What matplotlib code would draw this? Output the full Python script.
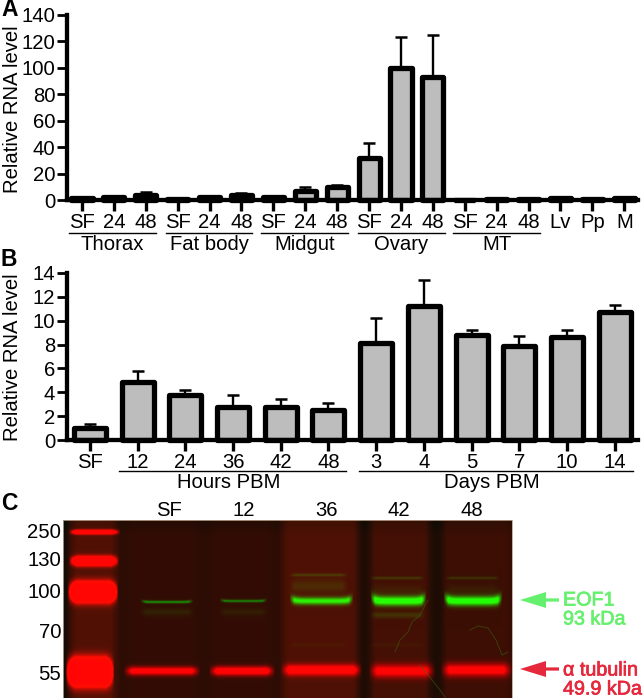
import numpy as np
import matplotlib
matplotlib.use('Agg')
import matplotlib.pyplot as plt
import matplotlib.patheffects as pe

plt.rcParams['font.family'] = ['Liberation Sans', 'DejaVu Sans']

W, H = 643, 698

# panel A
a_labels = ['SF', '24', '48', 'SF', '24', '48', 'SF', '24', '48', 'SF', '24', '48',
            'SF', '24', '48', 'Lv', 'Pp', 'M']
a_values = [1.5, 2, 3.5, 1, 2, 3.5, 2, 6.5, 10, 32, 100, 93, 0.2, 0.5, 1, 1.5, 0.7, 1.7]
a_upper = [1.7, 2.2, 6, 1.2, 2.3, 5, 2.3, 9.5, 11.5, 43, 123, 125, 0.2, 0.6, 1.1, 1.7, 0.8, 1.9]
a_yticks = [0, 20, 40, 60, 80, 100, 120, 140]

# panel B
b_labels = ['SF', '12', '24', '36', '42', '48', '3', '4', '5', '7', '10', '14']
b_values = [1.0, 4.9, 3.8, 2.8, 2.8, 2.5, 8.1, 11.2, 8.8, 7.9, 8.6, 10.7]
b_upper = [1.3, 5.8, 4.2, 3.8, 3.4, 3.1, 10.2, 13.4, 9.2, 8.7, 9.2, 11.3]
b_yticks = [0, 2, 4, 6, 8, 10, 12, 14]

# panel C labels
marker_sizes = ['250', '130', '100', '70', '55']
lane_names = ['SF', '12', '36', '42', '48']

# gel bands: x0, x1, y, half height, strength
ladder_bands = [(73, 116, 532, 2.2, 420), (73, 115, 561, 4.5, 520),
                (72, 114, 592, 8.5, 900), (70, 110, 672, 11.5, 1000)]
tubulin_bands = [(128, 196, 671, 4.2, 250), (213, 271, 671, 4.5, 270), (285, 358, 670, 5.5, 250),
                 (373, 431, 671, 6.5, 215), (445, 508, 670, 6.5, 225)]
green_bands = [(143, 191, 602, 1.4, 120), (222, 265, 601, 1.4, 110), (292, 351, 601, 3.6, 230),
               (373, 424, 601, 4.6, 280), (446, 500, 601, 4.6, 280)]
faint_green = [(143, 191, 612, 3.5, 20), (222, 265, 612, 3.5, 16), (292, 345, 575, 1.5, 40),
               (292, 345, 586, 6.0, 26), (373, 422, 578, 1.5, 38), (373, 422, 590, 5.0, 14),
               (373, 422, 615, 3.0, 34), (448, 497, 578, 1.5, 34), (448, 497, 590, 5.0, 14),
               (292, 345, 645, 2.0, 8), (373, 422, 645, 2.0, 8)]
lane_glow = [(283, 358, 34), (370, 430, 24), (442, 512, 16), (128, 196, 6), (213, 271, 6),
             (72, 116, 36)]


def box(xx, x0, x1, soft=4.0):
    return np.clip((xx - x0) / soft + 0.5, 0, 1) * np.clip((x1 - xx) / soft + 0.5, 0, 1)


def make_gel():
    xx, yy = np.meshgrid(np.arange(63, 512) + 0.5, np.arange(520, 698) + 0.5)
    red = np.full(xx.shape, 44.0)
    green = np.full(xx.shape, 12.0)
    for x0, x1, amp in lane_glow:
        red += amp * box(xx, x0, x1, 10)
        green += amp * 0.14 * box(xx, x0, x1, 10)
    red -= 14 * np.clip((535 - yy) / 15, 0, 1)
    red -= 14 * box(xx, 358, 372, 6) + 16 * box(xx, 428, 444, 6)
    red -= 28 * np.clip((70 - xx) / 6, 0, 1)
    for x0, x1, y, h, amp in ladder_bands + tubulin_bands:
        shape = box(xx, x0, x1, 9) * np.exp(-((yy - y) / h) ** 2)
        red += amp * shape
        green *= 1 - 0.7 * np.clip(shape * 2, 0, 1)
    for x0, x1, y, h, amp in green_bands:
        # the strong bands curl upward a little at both ends
        mid = (x0 + x1) / 2
        half = (x1 - x0) / 2
        curl = np.clip(np.abs(xx - mid) / half, 0, 1.2) ** 8 * h * 0.5
        shape = box(xx, x0, x1, 5) * np.exp(-((yy - y + curl) / (h + curl * 0.2)) ** 2)
        green += amp * shape
        red *= 1 - 0.45 * np.clip(shape, 0, 1)
    for x0, x1, y, h, amp in faint_green:
        shape = box(xx, x0, x1, 6) * np.exp(-((yy - y) / h) ** 2)
        green += amp * shape
    blue = np.full(xx.shape, 4.0)
    return np.clip(np.dstack([red, green, blue]), 0, 255).astype(np.uint8)


def draw_bars(ax, values, upper, width, yticks, labels):
    x = np.arange(len(values))
    err = [np.zeros(len(values)), np.array(upper) - np.array(values)]
    ax.errorbar(x, values, yerr=err, fmt='none', ecolor='k', elinewidth=1.7, capsize=4.6,
                capthick=1.8, zorder=2)
    ax.bar(x, values, width=width, color='#bdbdbd', edgecolor='k', linewidth=3.8, zorder=3,
           joinstyle='round', clip_on=False)
    for s in ['top', 'right']:
        ax.spines[s].set_visible(False)
    for s in ['left', 'bottom']:
        ax.spines[s].set_linewidth(3.1)
        ax.spines[s].set_zorder(4)
    ax.set_yticks(yticks)
    ax.set_xticks(x)
    ax.set_xticklabels(labels)
    ax.tick_params(axis='y', length=7.5, width=2.0, pad=1.0, labelsize=14.6)
    ax.tick_params(axis='x', length=8, width=2.4, pad=1.0, labelsize=14.6)
    ax.patch.set_alpha(0)


fig = plt.figure(figsize=(W / 100, H / 100), dpi=100)

# overlay in pixel coordinates for the gel and all the loose labels
over = fig.add_axes([0, 0, 1, 1])
over.imshow(make_gel(), extent=(63, 512, 698, 520), aspect='auto', interpolation='bilinear')
over.plot([63, 512, 512], [520, 520, 698], color='#b9a08c', lw=0.6)
over.plot([63, 63], [520, 698], color='#b9a08c', lw=0.6)
over.set_xlim(0, W)
over.set_ylim(H, 0)
over.axis('off')

ax_a = fig.add_axes([67 / W, 1 - 200 / H, (638 - 67) / W, 185 / H])
ax_a.set_xlim(-0.47, 17.43)
ax_a.set_ylim(0, 140)
draw_bars(ax_a, a_values, a_upper, 0.66, a_yticks, a_labels)

ax_b = fig.add_axes([67 / W, 1 - 440 / H, (638 - 67) / W, 167 / H])
ax_b.set_xlim(-0.482, 11.49)
ax_b.set_ylim(0, 14)
draw_bars(ax_b, b_values, b_upper, 0.67, b_yticks, b_labels)

fs = 14.6
over.text(12.5, 109, 'Relative RNA level', rotation=90, ha='center', va='center', fontsize=fs)
over.text(12.5, 357, 'Relative RNA level', rotation=90, ha='center', va='center', fontsize=fs)

# group lines and names
for x0, x1, name in [(69, 156, 'Thorax'), (166, 252, 'Fat body'), (261, 348, 'Midgut'),
                     (358, 445, 'Ovary'), (453, 540, 'MT')]:
    over.plot([x0, x1], [233, 233], color='k', lw=1.0)
    over.text((x0 + x1) / 2, 245, name, ha='center', va='center', fontsize=fs)
for x0, x1, name in [(119, 346, 'Hours PBM'), (359, 633, 'Days PBM')]:
    over.plot([x0, x1], [471, 471], color='k', lw=1.0)
    over.text((x0 + x1) / 2 - 4, 482, name, ha='center', va='center', fontsize=fs)

for letter, y in zip('ABC', [10, 259, 504]):
    over.text(1, y, letter, ha='left', va='center', fontsize=16.5, fontweight='bold')

for label, y in zip(marker_sizes, [533, 561, 592, 632, 674]):
    over.text(61, y, label, ha='right', va='center', fontsize=fs)
for label, x in zip(lane_names, [169, 244, 327, 399, 472]):
    over.text(x, 511, label, ha='center', va='center', fontsize=fs)

# faint squiggles on the membrane
over.plot([395, 400, 408, 412, 420, 428], [652, 640, 632, 622, 615, 600], color='#3c6a14', lw=0.7, alpha=0.5)
over.plot([470, 478, 488, 496, 502, 508], [630, 626, 628, 640, 655, 652], color='#3c6a14', lw=0.7, alpha=0.5)
over.plot([420, 432, 440, 445], [665, 680, 690, 697], color='#3c6a14', lw=0.7, alpha=0.5)

# arrows and protein labels
green_c = '#66f06e'
red_c = '#e6283c'
over.arrow(559, 600, -39, 0, width=3.2, head_width=16, head_length=26,
           length_includes_head=True, color=green_c, lw=0)
over.arrow(559, 669, -39, 0, width=3.2, head_width=16, head_length=26,
           length_includes_head=True, color=red_c, lw=0)
protein_kw = dict(ha='left', va='center', fontsize=14.2)
for label, y, col in [('EOF1', 600, green_c), ('93 kDa', 619, green_c),
                      ('α tubulin', 670, red_c), ('49.9 kDa', 689, red_c)]:
    t = over.text(563, y, label, color=col, **protein_kw)
    t.set_path_effects([pe.withStroke(linewidth=0.5, foreground=col)])

fig.savefig('out.png', dpi=100)
